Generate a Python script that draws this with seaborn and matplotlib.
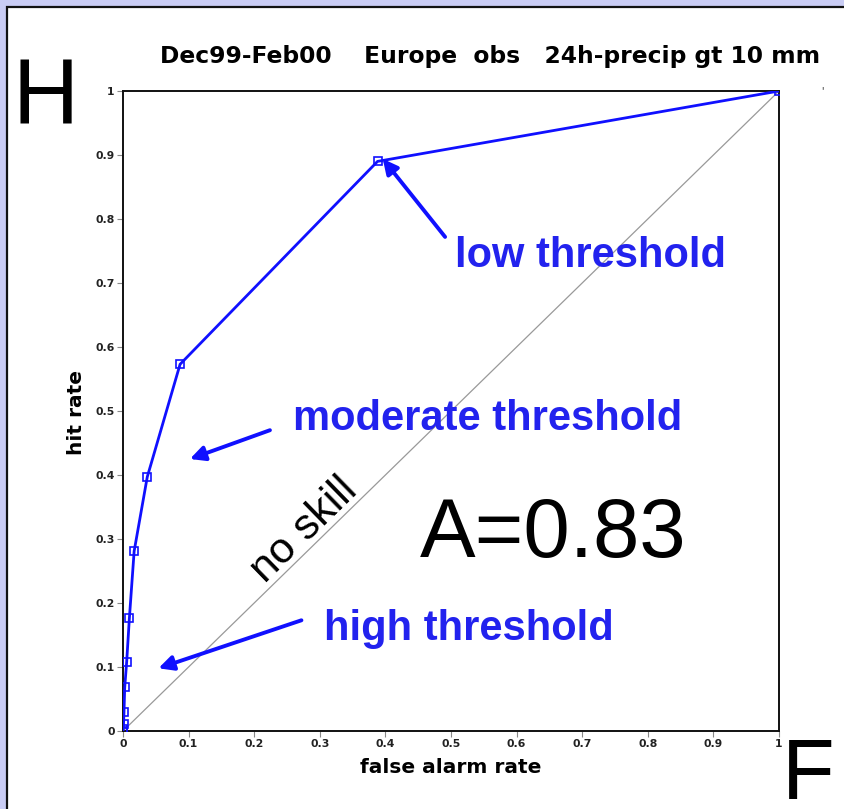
import matplotlib
matplotlib.use("Agg")
import matplotlib.pyplot as plt
import seaborn as sns
import pandas as pd
from matplotlib.patches import Rectangle

sns.set_style("white")
plt.rcParams['font.family'] = ['Liberation Sans', 'DejaVu Sans']
plt.rcParams['text.color'] = 'black'

# ROC points (false alarm rate, hit rate)
false_alarm = [0.0, 0.0003, 0.0008, 0.0015, 0.0026, 0.0056, 0.0097, 0.017, 0.037, 0.087, 0.388, 1.0]
hit_rate = [0.0, 0.003, 0.011, 0.029, 0.068, 0.108, 0.176, 0.281, 0.397, 0.573, 0.890, 1.0]
ticks = [0, 0.1, 0.2, 0.3, 0.4, 0.5, 0.6, 0.7, 0.8, 0.9, 1]
tick_labels = ["0", "0.1", "0.2", "0.3", "0.4", "0.5", "0.6", "0.7", "0.8", "0.9", "1"]
title = "Dec99-Feb00    Europe  obs   24h-precip gt 10 mm"

df = pd.DataFrame({"far": false_alarm, "hr": hit_rate})

W, H = 844, 809
fig = plt.figure(figsize=(W / 100, H / 100), dpi=100)
fig.patch.set_facecolor("#c9ccf4")
fig.patches.append(Rectangle((7 / W, -0.05), 1.1, 1 - 7 / H + 0.05, transform=fig.transFigure,
                             facecolor="white", edgecolor="#111111", lw=1.6, zorder=-5))

ax = fig.add_axes([123 / W, (H - 731) / H, 656 / W, 640 / H])
ax.set_facecolor("white")
ax.set_zorder(1)

ax.plot([0, 1], [0, 1], color="#999999", lw=0.9, zorder=1)
sns.lineplot(data=df, x="far", y="hr", sort=False, ax=ax, color="#1010ff", lw=2.0,
             marker="s", markersize=6, markerfacecolor="none", markeredgecolor="#1010ff",
             markeredgewidth=1.2, zorder=3)

ax.set_xlim(0, 1)
ax.set_ylim(0, 1)
ax.set_xticks(ticks)
ax.set_yticks(ticks)
ax.set_xticklabels(tick_labels, fontsize=7.8, fontweight="bold", color="#222222", family="DejaVu Sans")
ax.set_yticklabels(tick_labels, fontsize=7.8, fontweight="bold", color="#222222", family="DejaVu Sans")
ax.tick_params(axis="both", direction="out", length=4, width=0.8, color="#888888", pad=2,
               bottom=True, left=True)
for s in ax.spines.values():
    s.set_color("#111111")
    s.set_linewidth(1.4)

ax.set_xlabel("false alarm rate", fontsize=14.5, fontweight="bold", labelpad=6, color="black",
              family="DejaVu Sans")
ax.set_ylabel("")
fig.text(76 / W, 1 - 413 / H, "hit rate", rotation=90, fontsize=14.5, fontweight="bold",
         ha="center", va="center", family="DejaVu Sans")
fig.text(490 / W, 1 - 56 / H, title, fontsize=16.8, fontweight="bold", ha="center", va="center",
         family="DejaVu Sans")
fig.text(822 / W, 1 - 92 / H, "'", fontsize=9, color="#555555", ha="center", va="center")

fig.text(13 / W, 1 - 124 / H, "H", fontsize=66, ha="left", va="baseline")
fig.text(782 / W, 1 - 799 / H, "F", fontsize=62, ha="left", va="baseline")

blue = "#2222ee"
ax.text(0.713, 0.742, "low threshold", color=blue, fontsize=30, fontweight="bold",
        ha="center", va="center")
ax.text(0.556, 0.488, "moderate threshold", color=blue, fontsize=30, fontweight="bold",
        ha="center", va="center")
ax.text(0.527, 0.160, "high threshold", color=blue, fontsize=30, fontweight="bold",
        ha="center", va="center")
ax.text(0.655, 0.306, "A=0.83", fontsize=60, ha="center", va="center")
ax.text(0.276, 0.314, "no skill", fontsize=31, rotation=44.3, rotation_mode="anchor",
        ha="center", va="center")

arrow = dict(arrowstyle="-|>", lw=2.8, color="#1010ff", mutation_scale=22, shrinkA=0, shrinkB=0)
ax.annotate("", xy=(0.396, 0.894), xytext=(0.491, 0.772), arrowprops=arrow)
ax.annotate("", xy=(0.102, 0.425), xytext=(0.224, 0.470), arrowprops=arrow)
ax.annotate("", xy=(0.054, 0.098), xytext=(0.272, 0.173), arrowprops=arrow)

fig.savefig("out.png", dpi=100, facecolor=fig.get_facecolor())
